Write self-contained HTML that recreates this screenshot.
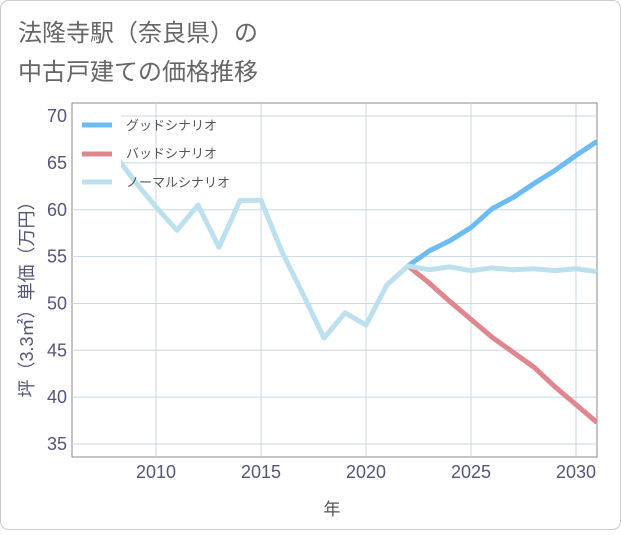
<!DOCTYPE html>
<html><head><meta charset="utf-8"><style>
body{margin:0;background:#fff;font-family:"Liberation Sans","Noto Sans CJK JP",sans-serif}
</style></head><body>
<svg width="621" height="530" xmlns="http://www.w3.org/2000/svg" font-family="Liberation Sans, Noto Sans CJK JP, sans-serif">
<rect x="0.5" y="0.5" width="620" height="529" rx="8" fill="#fff" stroke="#ccc"/>
<text x="18" y="41" font-size="24" fill="#666">法隆寺駅（奈良県）の</text>
<text x="18" y="80" font-size="24" fill="#666">中古戸建ての価格推移</text>
<g id="grid"></g>
<g id="series"></g>
<rect x="73" y="104" width="48" height="95" fill="#fff"/>
<g>
<line x1="82" y1="125" x2="112" y2="125" stroke="#6bbcf2" stroke-width="5"/>
<text x="126" y="130" font-size="13" fill="#555">グッドシナリオ</text>
<line x1="82" y1="154" x2="112" y2="154" stroke="#e0868f" stroke-width="5"/>
<text x="126" y="158" font-size="13" fill="#555">バッドシナリオ</text>
<line x1="82" y1="182" x2="112" y2="182" stroke="#bde0ee" stroke-width="5"/>
<text x="126" y="187" font-size="13" fill="#555">ノーマルシナリオ</text>
</g>
<text x="332" y="515" font-size="17" fill="#555" text-anchor="middle">年</text>
<text transform="translate(33,295) rotate(-90)" font-size="18" fill="#557" text-anchor="middle">坪（3.3㎡）単価（万円）</text>
</svg>
<script>
const xTicks=[2010,2015,2020,2025,2030];
const yTicks=[35,40,45,50,55,60,65,70];
const normalYears=[2008,2009,2010,2011,2012,2013,2014,2015,2016,2017,2018,2019,2020,2021,2022,2023,2024,2025,2026,2027,2028,2029,2030,2031];
const normalValues=[66,63,60.3,57.8,60.5,56,61,61,55.5,51,46.3,49,47.7,52,54,53.6,53.9,53.5,53.8,53.6,53.7,53.5,53.7,53.4];
const futureYears=[2022,2023,2024,2025,2026,2027,2028,2029,2030,2031];
const goodValues=[54,55.6,56.7,58.1,60.1,61.3,62.8,64.2,65.8,67.3];
const badValues=[54,52.2,50.2,48.3,46.4,44.8,43.2,41.1,39.2,37.3];
const L=72,R=597,T=103,B=457;
const X=y=>L+(y-2006)*21;
const Y=v=>444-(v-35)*9.37;
const NS="http://www.w3.org/2000/svg";
const grid=document.getElementById('grid'),ser=document.getElementById('series');
function mk(tag,attrs,parent){const e=document.createElementNS(NS,tag);for(const k in attrs)e.setAttribute(k,attrs[k]);parent.appendChild(e);return e;}
let r=mk('rect',{x:L,y:T,width:R-L,height:B-T,fill:'none',stroke:'#888'},grid);


xTicks.forEach(t=>{
 const l=mk('line',{x1:X(t),x2:X(t),y1:T,y2:B,stroke:'#c8d8e4'},grid);
 
 
 const tx=mk('text',{x:X(t),y:478,'font-size':18,fill:'#557','text-anchor':'middle'},grid);
 tx.textContent=t;
 
 
});
yTicks.forEach(t=>{
 const l=mk('line',{x1:L,x2:R,y1:Y(t),y2:Y(t),stroke:'#c8d8e4'},grid);
 
 
 const tx=mk('text',{x:67,y:Y(t)+6,'font-size':18,fill:'#557','text-anchor':'end'},grid);
 tx.textContent=t;
 
 
});
function line(xs,vs,color,name){
 const p=mk('polyline',{points:xs.map((x,i)=>X(x)+','+Y(vs[i])).join(' '),fill:'none',stroke:color,'stroke-width':5,'stroke-linejoin':'round'},ser);
 
 
}
line(futureYears,goodValues,'#6bbcf2','good-scenario-line');
line(futureYears,badValues,'#e0868f','bad-scenario-line');
line(normalYears,normalValues,'#bde0ee','normal-scenario-line');
const cp=mk('clipPath',{id:'c'},ser.parentNode);mk('rect',{x:L,y:T,width:R-L,height:B-T},cp);
ser.setAttribute('clip-path','url(#c)');
</script>
</body></html>
